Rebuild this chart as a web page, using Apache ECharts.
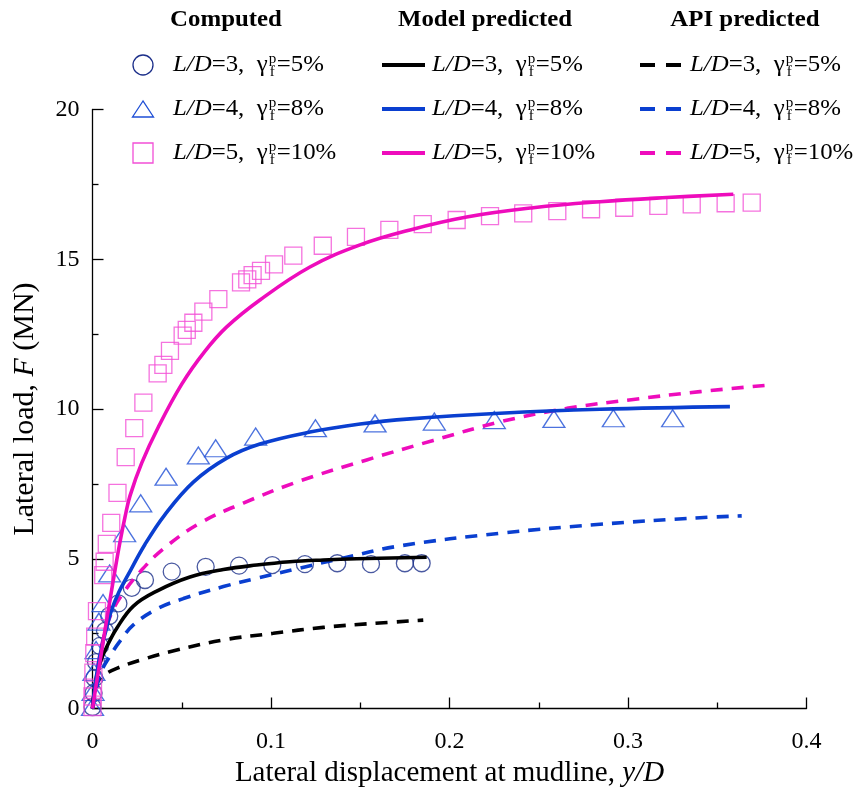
<!DOCTYPE html>
<html><head><meta charset="utf-8">
<script src="https://cdn.jsdelivr.net/npm/echarts@6/dist/echarts.min.js"></script>
<style>html,body{margin:0;padding:0;background:#fff}#c{width:862px;height:797px}</style>
</head><body><div id="c"></div>
<script>
// ---------- data (x = y/D, y = F in MN) ----------
const xTicks = [0, 0.1, 0.2, 0.3, 0.4];
const yTicks = [0, 5, 10, 15, 20];

// Computed (FE) points
const comp3 = [[0,0.05],[0.0006,0.52],[0.0011,1.02],[0.002,1.55],[0.0042,2.09],[0.007,2.59],[0.0094,3.09],[0.0145,3.51],[0.022,4.03],[0.0294,4.29],[0.0444,4.57],[0.0634,4.73],[0.0821,4.77],[0.1007,4.79],[0.119,4.82],[0.1371,4.85],[0.156,4.82],[0.175,4.85],[0.1844,4.85]];
const comp4 = [[0,0.05],[0.0003,0.55],[0.0008,1.22],[0.002,1.95],[0.0036,2.9],[0.0059,3.52],[0.0096,4.51],[0.018,5.85],[0.027,6.85],[0.0412,7.74],[0.0593,8.45],[0.069,8.69],[0.0914,9.08],[0.1249,9.36],[0.1583,9.52],[0.1915,9.58],[0.2251,9.63],[0.2585,9.67],[0.2918,9.69],[0.325,9.69]];
const comp5 = [[0,0.05],[0,0.4],[0.0003,0.7],[0.0005,1.2],[0.001,1.85],[0.0015,2.4],[0.0025,3.25],[0.006,4.45],[0.0068,4.9],[0.008,5.5],[0.0105,6.2],[0.014,7.2],[0.0186,8.39],[0.0234,9.36],[0.0285,10.21],[0.0365,11.19],[0.0397,11.47],[0.0434,11.94],[0.0505,12.45],[0.0528,12.64],[0.0565,12.88],[0.0621,13.25],[0.0705,13.67],[0.0832,14.23],[0.0867,14.33],[0.0897,14.47],[0.0944,14.61],[0.1017,14.83],[0.1125,15.12],[0.129,15.45],[0.1476,15.75],[0.1663,15.98],[0.185,16.17],[0.204,16.31],[0.2227,16.44],[0.2413,16.53],[0.2604,16.61],[0.2793,16.67],[0.2979,16.72],[0.317,16.78],[0.3357,16.83],[0.3547,16.87],[0.3693,16.89]];

// Model predicted curves
const model3 = [[0,0],[0.0008,0.45],[0.002,0.95],[0.0042,1.52],[0.008,2.06],[0.0136,2.68],[0.0229,3.42],[0.036,3.92],[0.0546,4.39],[0.0733,4.64],[0.092,4.79],[0.1106,4.9],[0.1293,4.96],[0.148,5.0],[0.1872,5.05]];
const model4 = [[0,0],[0.0014,0.75],[0.0031,1.42],[0.0053,2.09],[0.0076,2.62],[0.0105,3.26],[0.0148,3.89],[0.0199,4.46],[0.0292,5.46],[0.0404,6.46],[0.0565,7.56],[0.0752,8.36],[0.0938,8.83],[0.1218,9.23],[0.1499,9.5],[0.1779,9.67],[0.2283,9.86],[0.2843,9.99],[0.3571,10.08]];
const model5 = [[0,0],[0.0025,0.95],[0.0048,1.79],[0.007,2.62],[0.0098,3.62],[0.0126,4.62],[0.0154,5.56],[0.0182,6.39],[0.021,7.1],[0.0276,8.2],[0.0369,9.4],[0.05,10.83],[0.0626,11.9],[0.0752,12.74],[0.0938,13.64],[0.1218,14.74],[0.1499,15.48],[0.1779,15.98],[0.2096,16.41],[0.2469,16.72],[0.2843,16.92],[0.3217,17.06],[0.359,17.17]];

// API predicted curves
const api3 = [[0,0],[0.0008,0.45],[0.0025,0.85],[0.0048,1.05],[0.0136,1.34],[0.0304,1.68],[0.0472,1.95],[0.0733,2.29],[0.1013,2.51],[0.1293,2.71],[0.1573,2.84],[0.1853,2.95]];
const api4 = [[0,0],[0.002,0.62],[0.0048,1.22],[0.0098,1.75],[0.0154,2.25],[0.0229,2.79],[0.036,3.32],[0.0509,3.67],[0.0733,4.07],[0.092,4.35],[0.1162,4.69],[0.1387,5.0],[0.1723,5.43],[0.2283,5.85],[0.2843,6.15],[0.3403,6.37],[0.3637,6.43]];
const api5 = [[0,0],[0.0014,0.68],[0.0036,1.62],[0.007,2.55],[0.0109,3.22],[0.0164,3.79],[0.0266,4.56],[0.0397,5.33],[0.0602,6.19],[0.0845,6.86],[0.1163,7.6],[0.1536,8.3],[0.1909,8.95],[0.2283,9.57],[0.2657,10.02],[0.303,10.32],[0.3403,10.58],[0.3796,10.8]];

// legend text
const legendHeaders = ['Computed', 'Model predicted', 'API predicted'];
const legendLD = ['3', '4', '5'];
const legendPct = ['5%', '8%', '10%'];

// ---------- styles ----------
const FF = '"Liberation Serif", "Times New Roman", serif';
const C_CIRC = '#1c2f8a', C_TRI = '#1f4fd6', C_SQ = '#f24fd6';
const C_BLACK = '#000000', C_BLUE = '#0a3fd0', C_MAG = '#ee0cbc';
const LW = 3.6, DASH = [12, 9];

const chart = echarts.init(document.getElementById('c'), null, {renderer: 'canvas'});

function scatter(name, data, symbol, size, color) {
  return {name, type: 'scatter', data, symbol, symbolSize: size, z: 2,
    itemStyle: {color: 'rgba(0,0,0,0)', borderColor: color, borderWidth: 1.3}, silent: true};
}
function line(name, data, color, dashed) {
  return {name, type: 'line', data, showSymbol: false, symbol: 'none', smooth: 0.4, z: 5,
    lineStyle: {color, width: LW, type: dashed ? DASH : 'solid', cap: 'butt'}, silent: true};
}

// ---------- legend (graphic) ----------
const ctx = document.createElement('canvas').getContext('2d');
const SX = 1.08;
function tw(t, font) { ctx.font = font; return ctx.measureText(t).width * SX; }
const FS = 23;
const fN = FS + 'px ' + FF, fI = 'italic ' + FS + 'px ' + FF, fS = '14px ' + FF;
function txt(x, y, t, font, align) {
  return {type: 'text', x, y, scaleX: SX, silent: true, style: {text: t, font, fill: '#000', align: align || 'left', verticalAlign: 'middle', textAlign: align || 'left', textVerticalAlign: 'middle'}};
}
function entry(x, y, ld, pct) {
  const els = [];
  let cx = x;
  els.push(txt(cx, y, 'L/D', fI)); cx += tw('L/D', fI);
  const s2 = '=' + ld + ',  \u03b3';
  els.push(txt(cx, y, s2, fN)); cx += tw(s2, fN) + 1;
  els.push(txt(cx, y - 6, 'p', fS));
  els.push(txt(cx + 1, y + 7, 'f', fS));
  cx += tw('p', fS) + 0.5;
  els.push(txt(cx, y, '=' + pct, fN));
  return els;
}
const rowsY = [65, 109, 153];
const headerX = [226, 485, 745];
const textX = [173, 432, 690];
const g = [];
legendHeaders.forEach((h, i) => g.push(txt(headerX[i], 20, h, 'bold ' + FS + 'px ' + FF, 'center')));
// icons
g.push({type: 'circle', silent: true, shape: {cx: 143, cy: rowsY[0], r: 10}, style: {fill: 'none', stroke: C_CIRC, lineWidth: 1.3}});
g.push({type: 'polygon', silent: true, shape: {points: [[143, rowsY[1] - 8], [132.5, rowsY[1] + 8], [153.5, rowsY[1] + 8]]}, style: {fill: 'none', stroke: C_TRI, lineWidth: 1.3}});
g.push({type: 'rect', silent: true, shape: {x: 133, y: rowsY[2] - 10, width: 20, height: 20}, style: {fill: 'none', stroke: C_SQ, lineWidth: 1.3}});
const lineCols = [C_BLACK, C_BLUE, C_MAG];
rowsY.forEach((y, i) => {
  g.push({type: 'line', silent: true, shape: {x1: 382, y1: y, x2: 425, y2: y}, style: {stroke: lineCols[i], lineWidth: 4}});
  g.push({type: 'line', silent: true, shape: {x1: 640, y1: y, x2: 681, y2: y}, style: {stroke: lineCols[i], lineWidth: 4, lineDash: [15, 11]}});
  [0, 1, 2].forEach(c => entry(textX[c], y, legendLD[i], legendPct[i]).forEach(e => g.push(e)));
});

const nameRich = (fs) => ({n: {fontFamily: FF, fontSize: fs, color: '#000'}, i: {fontFamily: FF, fontSize: fs, fontStyle: 'italic', color: '#000'}});
const option = {
  animation: false,
  backgroundColor: '#fff',
  grid: {left: 92.5, right: 55.5, top: 109.5, bottom: 88.5, containLabel: false},
  xAxis: {
    type: 'value', min: xTicks[0], max: xTicks[xTicks.length - 1], interval: 0.1,
    name: '{n|Lateral displacement at mudline, }{i|y/D}', nameLocation: 'middle', nameGap: 49,
    nameTextStyle: {rich: nameRich(29)},
    axisLine: {show: true, onZero: false, lineStyle: {color: '#000', width: 1.3}},
    axisTick: {show: true, inside: true, length: 11, lineStyle: {color: '#000', width: 1.3}},
    minorTick: {show: true, splitNumber: 2, length: 6, lineStyle: {color: '#000', width: 1.3}},
    splitLine: {show: false},
    axisLabel: {margin: 21, fontFamily: FF, fontSize: 24, color: '#000', formatter: v => String(+v.toFixed(2))}
  },
  yAxis: {
    type: 'value', min: yTicks[0], max: yTicks[yTicks.length - 1], interval: 5,
    name: '{n|Lateral load, }{i|F}{n| (MN)}', nameLocation: 'middle', nameGap: 52, nameRotate: 90,
    nameTextStyle: {rich: nameRich(30)},
    axisLine: {show: true, onZero: false, lineStyle: {color: '#000', width: 1.3}},
    axisTick: {show: true, inside: true, length: 11, lineStyle: {color: '#000', width: 1.3}},
    minorTick: {show: true, splitNumber: 2, length: 6, lineStyle: {color: '#000', width: 1.3}},
    splitLine: {show: false},
    axisLabel: {margin: 13, fontFamily: FF, fontSize: 24, color: '#000'}
  },
  series: [
    scatter('c3', comp3, 'circle', 17, C_CIRC),
    scatter('c4', comp4, 'triangle', [22, 17], C_TRI),
    scatter('c5', comp5, 'rect', 17, C_SQ),
    line('a3', api3, C_BLACK, true),
    line('a4', api4, C_BLUE, true),
    line('a5', api5, C_MAG, true),
    line('m3', model3, C_BLACK, false),
    line('m4', model4, C_BLUE, false),
    line('m5', model5, C_MAG, false)
  ],
  graphic: {elements: g}
};
chart.setOption(option);
</script>
</body></html>
